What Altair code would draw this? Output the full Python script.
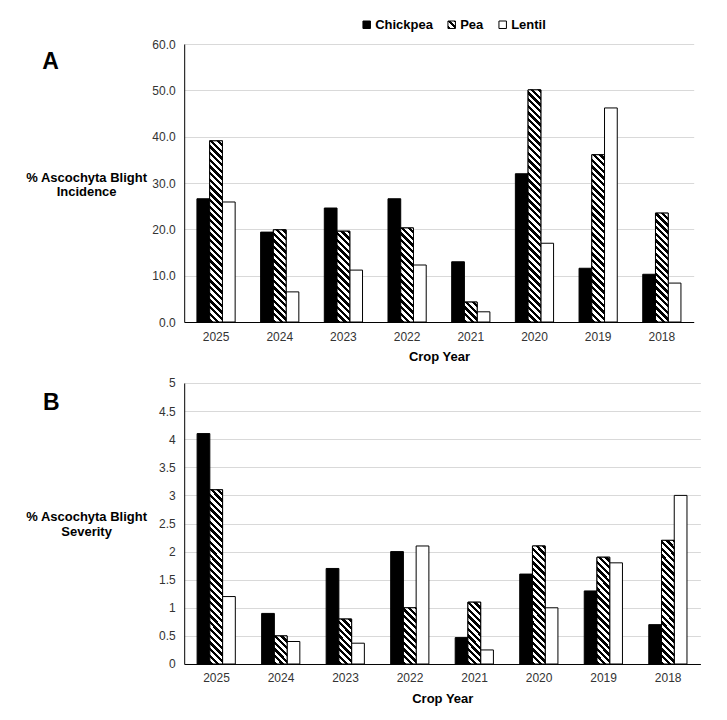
import altair as alt
import pandas as pd

# ---------------- data ----------------
years = ["2025", "2024", "2023", "2022", "2021", "2020", "2019", "2018"]
crops = ["Chickpea", "Pea", "Lentil"]

incidence_chickpea = [26.6, 19.4, 24.6, 26.6, 13.0, 32.0, 11.6, 10.3]
incidence_pea = [39.1, 19.9, 19.6, 20.3, 4.3, 50.1, 36.1, 23.5]
incidence_lentil = [25.9, 6.5, 11.2, 12.3, 2.2, 17.0, 46.2, 8.4]

severity_chickpea = [4.1, 0.9, 1.7, 2.0, 0.47, 1.6, 1.3, 0.7]
severity_pea = [3.1, 0.5, 0.8, 1.0, 1.1, 2.1, 1.9, 2.2]
severity_lentil = [1.2, 0.4, 0.37, 2.1, 0.25, 1.0, 1.8, 3.0]

incidence_ticks = [0, 10, 20, 30, 40, 50, 60]
severity_ticks = [0, 0.5, 1, 1.5, 2, 2.5, 3, 3.5, 4, 4.5, 5]


def long_table(series):
    rows = []
    for crop, vals in zip(crops, series):
        for y, v in zip(years, vals):
            rows.append({"year": y, "crop": crop, "value": v})
    return pd.DataFrame(rows)


inc_df = long_table([incidence_chickpea, incidence_pea, incidence_lentil])
sev_df = long_table([severity_chickpea, severity_pea, severity_lentil])

FONT = "Liberation Sans"

# ---------------- hatch helpers (diagonal stripes via linear gradient) ----------------
PERIOD = 6.7
FRAC = 0.5


def stops_for(L):
    out = []
    i = 0
    while i * PERIOD / L <= 1:
        a = i * PERIOD / L
        b = min((i * PERIOD + FRAC * PERIOD) / L, 1)
        c = min((i + 1) * PERIOD / L, 1)
        out += [(a, "black"), (b, "black"), (b, "white"), (c, "white")]
        i += 1
    return ",".join("{offset:%.4f,color:'%s'}" % (o, col) for o, col in out)


def hatch_expr(plot_h, dmax, w, L=330):
    q = "(datum.value*%.5f)" % (plot_h / dmax)
    den = "(%.4f+%s*%s)" % (w * w, q, q)
    return ("{gradient:'linear',x1:0,y1:1,x2:%.4f/%s,y2:1-%d*%s/%s,stops:[%s]}"
            % (L * w, den, L, q, den, stops_for(L)))


legend_grad = "{gradient:'linear',x1:0,y1:1,x2:1,y2:0,stops:[%s]}" % stops_for(15)


def panel(df, width, height, dmax, ticks, fmt, ytitle, letter, title_dx, title_dy,
          title_x, title_y, show_legend):
    step = width / 8.0
    bar_w = step * 0.6 / 3.0
    x = alt.X("year:N", sort=years,
              scale=alt.Scale(paddingInner=0.4, paddingOuter=0.2),
              axis=alt.Axis(title="Crop Year", labelAngle=0, ticks=False, tickSize=0,
                            labelPadding=9, titlePadding=9, grid=False,
                            labelFont=FONT, labelFontSize=12, labelColor="#333333",
                            titleFont=FONT, titleFontSize=13, titleFontWeight="bold",
                            titleColor="black"))
    xo = alt.XOffset("crop:N", sort=crops, scale=alt.Scale(domain=crops))
    y = alt.Y("value:Q", stack=False,
              scale=alt.Scale(domain=[0, dmax], nice=False, zero=True),
              axis=alt.Axis(values=ticks, format=fmt, title=ytitle, ticks=False, tickSize=0,
                            labelPadding=9, titleAngle=0, titleAlign="center",
                            titleBaseline="middle", titleX=title_x, titleY=title_y,
                            titleLineHeight=15, grid=True,
                            labelFont=FONT, labelFontSize=12, labelColor="#333333",
                            titleFont=FONT, titleFontSize=13, titleFontWeight="bold",
                            titleColor="black"))
    if show_legend:
        leg = alt.Legend(orient="none", legendX=176, legendY=-26, direction="horizontal",
                         title=None, symbolType="square", symbolSize=56,
                         symbolStrokeColor="black", symbolStrokeWidth=1,
                         labelFont=FONT, labelFontSize=13, labelFontWeight="bold",
                         labelColor="black", labelOffset=2, columnPadding=12, padding=0)
    else:
        leg = None
    fill = alt.Fill("crop:N",
                    scale=alt.Scale(domain=crops,
                                    range=["black", alt.ExprRef(expr=legend_grad), "white"]),
                    legend=leg)
    base = alt.Chart(df)
    bars = base.mark_bar(stroke="black", strokeWidth=1).encode(x=x, xOffset=xo, y=y, fill=fill)
    pea = (base.transform_filter("datum.crop == 'Pea'")
           .transform_calculate(grad=hatch_expr(height, dmax, bar_w))
           .mark_bar(stroke="black", strokeWidth=1)
           .encode(x=x, xOffset=xo, y=y, fill=alt.Fill("grad:N", scale=None, legend=None)))
    return alt.layer(bars, pea).properties(
        width=width, height=height,
        title=alt.TitleParams(text=letter, anchor="start", frame="group", dx=title_dx,
                              dy=title_dy, offset=0, fontSize=23, fontWeight="bold",
                              font=FONT, baseline="alphabetic", color="black"))


panel_a = panel(inc_df, 509.5, 278, 60, incidence_ticks, ".1f",
                ["% Ascochyta Blight", "Incidence"], "A", -142, 74, -98.1, 133, True)
panel_b = panel(sev_df, 516.2, 281, 5, severity_ticks, "~g",
                ["% Ascochyta Blight", "Severity"], "B", -141.3, 56, -98.1, 134, False)

chart = (alt.vconcat(panel_a, panel_b, spacing=13)
         .resolve_scale(fill="independent")
         .properties(padding={"left": 17.2, "top": 10, "right": 5, "bottom": 5},
                     background="white")
         .configure_view(strokeWidth=0)
         .configure_axis(gridColor="#d9d9d9", gridWidth=1,
                         domainColor="black", domainWidth=1))

chart.save("out.html", embed_options={"renderer": "svg", "actions": False})
